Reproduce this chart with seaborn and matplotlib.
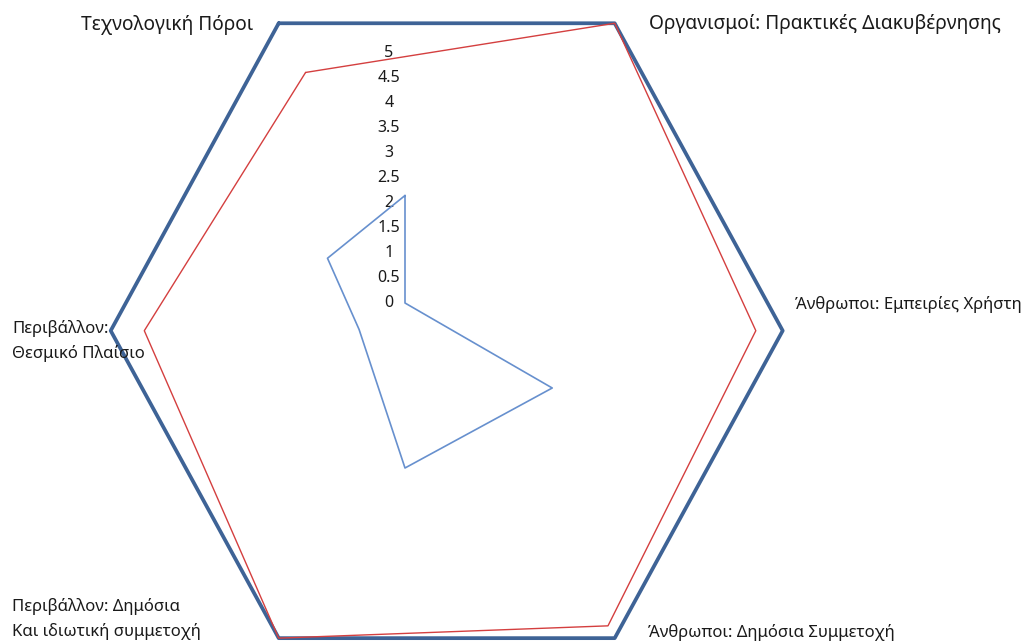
import numpy as np
import pandas as pd
import matplotlib
matplotlib.use("Agg")
import matplotlib.pyplot as plt
from matplotlib.transforms import ScaledTranslation
import seaborn as sns

# ---- data ----
categories = [
    "Τεχνολογική Πόροι",
    "Οργανισμοί: Πρακτικές Διακυβέρνησης",
    "Άνθρωποι: Εμπειρίες Χρήστη",
    "Άνθρωποι: Δημόσια Συμμετοχή",
    "Περιβάλλον: Δημόσια\nΚαι ιδιωτική συμμετοχή",
    "Περιβάλλον:\nΘεσμικό Πλαίσιο",
]
series_max = [5, 5, 5, 5, 5, 5]
series_red = [4.2, 5, 4.6, 4.8, 5, 4.5]
series_light = [2.15, 0, 3.4, 3.3, 1.06, 1.79]
r_ticks = [0, 0.5, 1, 1.5, 2, 2.5, 3, 3.5, 4, 4.5, 5]
r_tick_labels = ["0", "0.5", "1", "1.5", "2", "2.5", "3", "3.5", "4", "4.5", "5"]

sns.set_theme(style="white")
plt.rcParams["font.family"] = ["Noto Sans", "DejaVu Sans"]

W, H = 1024, 641
fig = plt.figure(figsize=(W / 100, H / 100), dpi=100)

n = len(categories)
theta = np.arange(n) * 2 * np.pi / n
theta_c = np.append(theta, theta[0])


def closed(v):
    return list(v) + [v[0]]


# ---- main radar (outer hexagon + red series) ----
cx, cy, rx, ry = 446.7, 330.7, 336, 355
ax = fig.add_axes([(cx - rx) / W, (H - cy - ry) / H, 2 * rx / W, 2 * ry / H],
                  projection="polar")
ax.set_aspect("auto")
ax.set_theta_offset(np.deg2rad(120))
ax.set_theta_direction(-1)

df_main = pd.DataFrame({
    "theta": np.concatenate([theta_c, theta_c]),
    "value": closed(series_max) + closed(series_red),
    "series": ["max"] * (n + 1) + ["red"] * (n + 1),
})
sns.lineplot(data=df_main[df_main.series == "max"], x="theta", y="value",
             sort=False, estimator=None, ax=ax, color="#3E6396", linewidth=2.7)
sns.lineplot(data=df_main[df_main.series == "red"], x="theta", y="value",
             sort=False, estimator=None, ax=ax, color="#D43F3F", linewidth=1.0)
for ln in ax.lines:
    ln.set_clip_on(False)
ax.set_ylim(0, 5)
ax.set_xticks([])
ax.set_yticks([])
ax.grid(False)
ax.spines["polar"].set_visible(False)
ax.set_xlabel("")
ax.set_ylabel("")
ax.patch.set_alpha(0)

# category labels: (offset in points, ha, va, fontsize)
label_cfg = [
    ((-18.5, -1.5), "right", "center", 13.8),
    ((25, -0.5), "left", "center", 13.8),
    ((9, 19), "left", "center", 12),
    ((24, 4), "left", "center", 12),
    ((-192, 14), "left", "center", 12),
    ((-71, -7.5), "left", "center", 12),
]
for t, lab, (off, ha, va, fs) in zip(theta, categories, label_cfg):
    ax.annotate(lab, xy=(t, 5), xytext=off, textcoords="offset points",
                ha=ha, va=va, fontsize=fs, color="#1a1a1a",
                linespacing=1.6, annotation_clip=False)

# ---- inner radar (light blue series with value axis) ----
c2x, c2y, r2 = 405, 303, 250
ax2 = fig.add_axes([(c2x - r2) / W, (H - c2y - r2) / H, 2 * r2 / W, 2 * r2 / H],
                   projection="polar")
ax2.set_theta_zero_location("N")
ax2.set_theta_direction(-1)
df_light = pd.DataFrame({"theta": theta_c, "value": closed(series_light)})
sns.lineplot(data=df_light, x="theta", y="value", sort=False, estimator=None,
             ax=ax2, color="#6790CE", linewidth=1.2)
ax2.set_ylim(0, 5)
ax2.set_xticks([])
ax2.set_rlabel_position(0)
ax2.set_yticks(r_ticks, r_tick_labels, ha="center", va="center")
ax2.tick_params(axis="y", labelsize=11.5, labelcolor="#1a1a1a")
ax2.grid(False)
ax2.spines["polar"].set_visible(False)
ax2.set_xlabel("")
ax2.set_ylabel("")
ax2.patch.set_alpha(0)

fig.canvas.draw()
shift = ScaledTranslation(-16 / 100, 0, fig.dpi_scale_trans)
for tk in ax2.yaxis.get_major_ticks():
    tk.label1.set_transform(tk.label1.get_transform() + shift)

fig.savefig("out.png", dpi=100, facecolor="white")
